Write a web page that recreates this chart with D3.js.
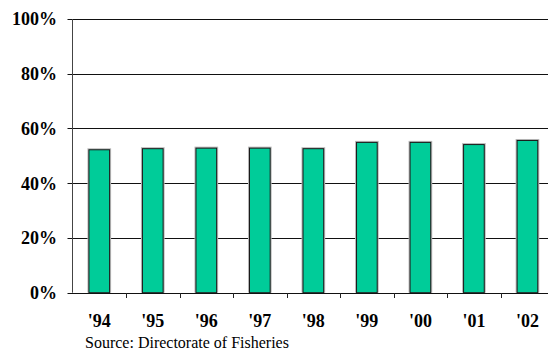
<!DOCTYPE html>
<html><head><meta charset="utf-8">
<script src="https://cdn.jsdelivr.net/npm/d3@7"></script>
<style>body{margin:0;background:#fff}svg{display:block}
.ser{font-family:"Liberation Serif",serif !important}</style>
</head><body>
<svg id="c" width="548" height="354" style="font-family:'Liberation Serif',serif"></svg>
<script>
const categories = ["'94","'95","'96","'97","'98","'99","'00","'01","'02"];
const values = [52.4, 52.8, 53.0, 53.0, 52.8, 55.1, 55.1, 54.3, 55.8];
const yTicks = [0, 20, 40, 60, 80, 100];
const sourceText = "Source: Directorate of Fisheries";

const svg = d3.select("#c");
const pLeft = 72.5, pRight = 554.2, pTop = 19, pBottom = 292.7;
const x = d3.scaleBand().domain(categories).range([pLeft, pRight]).paddingInner(0.595).paddingOuter(0.2975);
const y = d3.scaleLinear().domain([0, 100]).range([pBottom, pTop]);

svg.append("g").selectAll("line").data(yTicks).join("line")
  .attr("x1", pLeft - 5).attr("x2", 548)
  .attr("y1", d => Math.round(y(d)) + 0.5).attr("y2", d => Math.round(y(d)) + 0.5)
  .attr("stroke", "#111").attr("stroke-width", 1);

svg.append("line").attr("x1", 72.5).attr("x2", 72.5).attr("y1", pTop).attr("y2", pBottom)
  .attr("stroke", "#444").attr("stroke-width", 1);

const step = x.step();
const bounds = categories.slice(1).map((c) => x(c) - x.paddingInner() * step / 2);
svg.append("g").selectAll("line").data(bounds).join("line")
  .attr("x1", d => Math.round(d) + 0.5).attr("x2", d => Math.round(d) + 0.5)
  .attr("y1", Math.round(pBottom)).attr("y2", Math.round(pBottom) + 5)
  .attr("stroke", "#222");

svg.append("g").selectAll("rect").data(values).join("rect")
  .attr("x", (d, i) => x(categories[i]) - 1)
  .attr("y", d => y(d) - 1)
  .attr("width", x.bandwidth() + 2)
  .attr("height", d => pBottom - y(d) + 1)
  .attr("fill", "#b8b8b8");

svg.append("g").selectAll("rect").data(values).join("rect")
  .attr("x", (d, i) => x(categories[i]) + 0.5)
  .attr("y", d => y(d) + 0.5)
  .attr("width", x.bandwidth() - 1)
  .attr("height", d => pBottom - y(d) - 0.5)
  .attr("fill", "#00CC99")
  .attr("stroke", "#1a1a1a").attr("stroke-width", 1);

// y labels
svg.append("g").selectAll("text").data(yTicks).join("text")
  .attr("class", "ser")
  .attr("x", 57).attr("y", d => y(d))
  .attr("dy", "0.35em")
  .attr("text-anchor", "end")
  .attr("font-family", "Times New Roman")
  .style("font-weight", "bold").style("font-size", "18px")
  .attr("fill", "#000")
  .text(d => d + "%");

// x labels
svg.append("g").selectAll("text").data(categories).join("text")
  .attr("class", "ser")
  .attr("x", d => x(d) + x.bandwidth() / 2).attr("y", 327)
  .attr("text-anchor", "middle")
  .attr("style", "font-family:'Liberation Serif',serif;font-weight:bold;font-size:18px")
  .attr("fill", "#000")
  .text(d => d);

svg.append("text").attr("class", "ser").attr("x", 85).attr("y", 348)
  .attr("style", "font-family:'Liberation Serif',serif;font-size:16px")
  .attr("fill", "#000")
  .text(sourceText);
</script>
</body></html>
